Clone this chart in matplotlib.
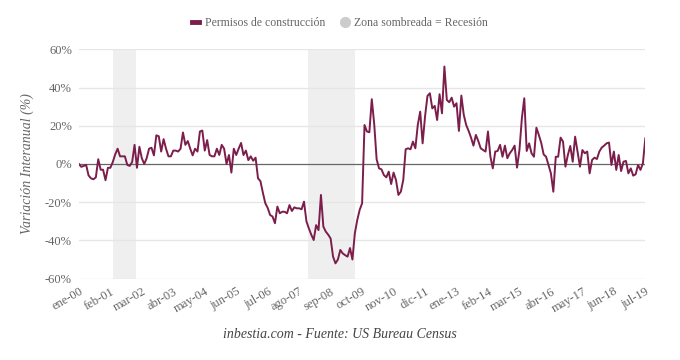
import numpy as np
import matplotlib
matplotlib.use("Agg")
import matplotlib.pyplot as plt
from matplotlib.lines import Line2D

# ============================================================
# DATOS
# ============================================================

meses = ["ene", "feb", "mar", "abr", "may", "jun",
         "jul", "ago", "sep", "oct", "nov", "dic"]

# variación interanual mensual, ene-2000 .. jul-2019
permisos = [
    0, -1.5, -1, -0.5, -6, -7.5, -8, -7, 2.5, -3, -3, -8.5,
    -2, -2, 1, 5, 8, 4, 4, 4, -0.5, -1, 1, 10,
    -2, 9, 3, 0, 3, 8, 8.5, 4.5, 15, 14.5, 6.5, 13,
    8, 4, 4, 7, 7, 6.5, 8, 16.5, 10, 12, 8, 4.5,
    8, 6.5, 17, 17.5, 7, 12.5, 4.7, 4, 4, 8, 4.7, 10,
    8, 0, 4.7, -4.5, 8, 4.7, 8, 11, 4.7, 7, 2, 4,
    1.7, 3.3, -7.5, -9, -15, -20.5, -23, -26.7, -27.5, -31, -22.3, -25.8,
    -25, -25, -25.8, -21.5, -24.6, -22.7, -23.2, -23.2, -23.7, -19.7, -30, -33.7,
    -37, -39.8, -32, -34.6, -16.2, -32.8, -35.4, -37, -39, -48.5, -52, -50,
    -45, -46.8, -47.7, -48.5, -44, -50, -36.3, -29.3, -24, -20.6, 20.4, 17,
    16.6, 33.9, 21, 2.5, -2.3, -2.8, -5.8, -7, -4, -10.5, -4.5, -8.4,
    -16.2, -14.5, -8.4, 7.7, 8.2, 7.7, 11.7, 8.2, 20.4, 27.4, 10.8, 24.8,
    35.6, 37, 29.1, 30.4, 23, 36.5, 26.5, 51, 33.5, 32.3, 34.7, 30,
    31.8, 17.3, 35.8, 25.7, 20.4, 17.3, 13.8, 9.6, 15.2, 12, 8.2, 7.3,
    6.5, 17, 3.8, -2.3, 6.5, 6.8, 10, 3.8, 9.6, 3, 5.6, 7.3,
    9.6, -1.9, 7.3, 23.9, 34.4, 6.8, 10.8, 5.6, 3.8, 19, 15.2, 11,
    5, 3.8, -0.5, -4.9, -14.5, 3.8, 3.8, 13.8, 11.7, -1.4, 4.7, 9.4,
    1.2, 14.3, 6.5, -1.4, 7.3, 5.6, 6.5, -4.9, 2.1, 3.3, 2.6, 6.5,
    8.6, 9.6, 10.8, 11.2, -0.5, 6.5, -3.1, 4.7, -3.7, 1.2, 1.6, -4.9,
    -2.3, -6.1, -5.4, -0.5, -3.1, 0.3, 13.4,
]

# recesiones (índice de mes inicio, fin)
recesiones = [(14, 23.8), (94.8, 114)]

etiquetas = [f"{meses[i % 12]}-{(i // 12) % 100:02d}" for i in range(len(permisos))]

# ============================================================
# FIGURA
# ============================================================

plt.rcParams["font.family"] = ["Liberation Serif", "DejaVu Serif"]

COLOR = "#7b1e4c"
GRIS = "#666666"

fig = plt.figure(figsize=(6.8, 3.6), dpi=100)
ax = fig.add_axes([0.116, 0.226, 0.833, 0.637])

x = np.arange(len(permisos))

for ini, fin in recesiones:
    ax.axvspan(ini, fin, color="#efefef", lw=0, zorder=0)

for v in range(-60, 61, 20):
    if v != 0:
        ax.axhline(v, color="#e6e6e6", lw=1, zorder=1)
ax.axhline(0, color="#666666", lw=0.9, zorder=2)

ax.plot(x, permisos, color=COLOR, lw=1.4, zorder=3)

ax.set_xlim(0, len(permisos) - 1)
ax.set_ylim(-60, 60)

ticks = x[::13]
ax.set_xticks(ticks)
ax.set_xticklabels([etiquetas[i] for i in ticks], rotation=30, ha="right",
                   rotation_mode="anchor", fontsize=9, color=GRIS)
ax.set_yticks(range(-60, 61, 20))
ax.set_yticklabels([f"{v}%" for v in range(-60, 61, 20)], fontsize=9, color=GRIS)
ax.tick_params(length=0, pad=5)

for s in ax.spines.values():
    s.set_visible(False)

ax.set_ylabel("Variación Interanual (%)", fontsize=10, style="italic",
              color=GRIS, labelpad=8)

# ============================================================
# LEYENDA Y FUENTE
# ============================================================

handles = [
    Line2D([], [], color=COLOR, lw=3.5),
    Line2D([], [], marker="o", ls="", color="#cccccc", markersize=7),
]
fig.legend(handles, ["Permisos de construcción", "Zona sombreada = Recesión"],
           loc="center", bbox_to_anchor=(0.5, 0.935), ncol=2, frameon=False,
           fontsize=8.5, labelcolor=GRIS, handlelength=0.6, handletextpad=0.5,
           columnspacing=1.4)

fig.text(0.5, 0.07, "inbestia.com - Fuente: US Bureau Census", ha="center",
         va="center", fontsize=10, style="italic", color="#444444")

plt.savefig("out.png", dpi=100)
plt.close()
